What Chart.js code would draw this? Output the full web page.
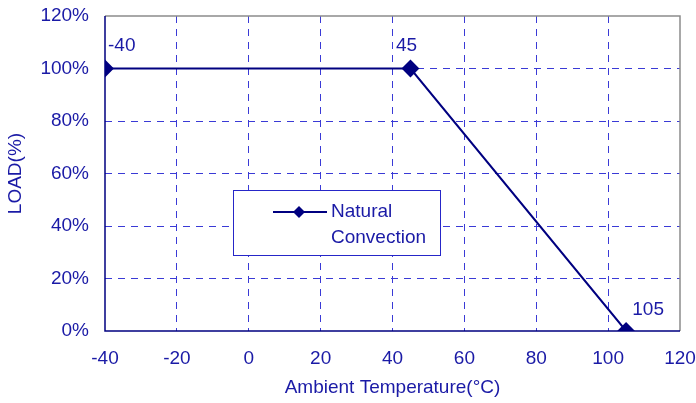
<!DOCTYPE html>
<html>
<head>
<meta charset="utf-8">
<script src="https://cdn.jsdelivr.net/npm/chart.js@4.4.1/dist/chart.umd.min.js"></script>
<style>
  html, body { margin:0; padding:0; background:#fff; }
  #wrap { width:696px; height:403px; }
</style>
</head>
<body>
<div id="wrap"><canvas id="chart" width="696" height="403"></canvas></div>
<script>
// ---------------- DATA ----------------
const temps = [-40, 45, 105];
const loads = [100, 100, 0];
const pointLabels = ["-40", "45", "105"];
const seriesName = ["Natural", "Convection"];
const xTicks = [-40, -20, 0, 20, 40, 60, 80, 100, 120];
const yTicks = [0, 20, 40, 60, 80, 100, 120];

const NAVY = "#000080";
const TEXT = "#1a1aa6";
const GRID = "#3a3ad6";
const FONT = "'Liberation Sans', Arial, sans-serif";
const FS = 19;

// frame: gray top/right, navy left/bottom
const framePlugin = {
    id: "frame",
    beforeDatasetsDraw(chart){
        const {ctx, chartArea:a} = chart;
        ctx.save();
        ctx.lineWidth = 1.5;
        ctx.strokeStyle = "#8c8c8c";
        ctx.beginPath();
        ctx.moveTo(a.left, a.top); ctx.lineTo(a.right, a.top); ctx.lineTo(a.right, a.bottom);
        ctx.stroke();
        ctx.strokeStyle = NAVY;
        ctx.beginPath();
        ctx.moveTo(a.left, a.top); ctx.lineTo(a.left, a.bottom); ctx.lineTo(a.right, a.bottom);
        ctx.stroke();
        ctx.restore();
    }
};

// value labels + legend box
const labelPlugin = {
    id: "labels",
    afterDatasetsDraw(chart){
        const {ctx} = chart;
        const meta = chart.getDatasetMeta(0);
        ctx.save();
        ctx.font = FS + "px " + FONT;
        ctx.fillStyle = TEXT;
        ctx.textBaseline = "middle";
        const offs = [[3, -23, "left"], [-4, -23, "center"], [22, -21, "center"]];
        meta.data.forEach((p, i) => {
            ctx.textAlign = offs[i][2];
            ctx.fillText(pointLabels[i], p.x + offs[i][0], p.y + offs[i][1]);
        });

        // legend
        const bx = 233.5, by = 190.5, bw = 207, bh = 65;
        ctx.fillStyle = "#fff";
        ctx.fillRect(bx, by, bw, bh);
        ctx.strokeStyle = "#2626c8";
        ctx.lineWidth = 1;
        ctx.strokeRect(bx, by, bw, bh);
        const ly = 212;
        ctx.strokeStyle = NAVY;
        ctx.lineWidth = 2;
        ctx.beginPath(); ctx.moveTo(273, ly); ctx.lineTo(327, ly); ctx.stroke();
        ctx.fillStyle = NAVY;
        ctx.beginPath();
        ctx.moveTo(299, ly - 6); ctx.lineTo(305, ly); ctx.lineTo(299, ly + 6); ctx.lineTo(293, ly);
        ctx.closePath(); ctx.fill();
        ctx.fillStyle = TEXT;
        ctx.textAlign = "left";
        ctx.fillText(seriesName[0], 331, ly);
        ctx.fillText(seriesName[1], 331, ly + 26);
        ctx.restore();
    }
};

new Chart(document.getElementById("chart"), {
    type: "line",
    data: {
        datasets: [{
            label: seriesName.join(" "),
            data: temps.map((t, i) => ({x: t, y: loads[i]})),
            borderColor: NAVY,
            backgroundColor: NAVY,
            borderWidth: 2,
            pointStyle: "rectRot",
            pointRadius: 7.5,
            pointHoverRadius: 7.5,
            tension: 0
        }]
    },
    options: {
        responsive: false,
        animation: false,
        layout: { padding: { left: 0, right: 16, top: 16, bottom: 0 } },
        plugins: { legend: { display: false }, tooltip: { enabled: false } },
        scales: {
            x: {
                type: "linear",
                min: -40, max: 120,
                afterBuildTicks: s => { s.ticks = xTicks.map(v => ({value: v})); },
                afterFit: s => { s.height = 72; s.paddingLeft = 0; s.paddingRight = 0; },
                border: { display: false, dash: [7, 6] },
                grid: {
                    color: c => c.tick && (c.tick.value === -40 || c.tick.value === 120) ? "rgba(0,0,0,0)" : GRID,
                    lineWidth: 1,
                    drawTicks: false
                },
                ticks: { color: TEXT, font: { family: FONT, size: FS }, padding: 16, maxRotation: 0 },
                title: { display: true, text: "Ambient Temperature(°C)", color: TEXT,
                         font: { family: FONT, size: FS }, padding: { top: 0 } }
            },
            y: {
                min: 0, max: 120,
                afterBuildTicks: s => { s.ticks = yTicks.map(v => ({value: v})); },
                afterFit: s => { s.width = 105; s.paddingTop = 0; s.paddingBottom = 0; },
                border: { display: false, dash: [7, 6] },
                grid: {
                    color: c => c.tick && (c.tick.value === 0 || c.tick.value === 120) ? "rgba(0,0,0,0)" : GRID,
                    lineWidth: 1,
                    drawTicks: false
                },
                ticks: { color: TEXT, font: { family: FONT, size: FS }, padding: 16,
                         callback: v => v + "%" },
                title: { display: true, text: "LOAD(%)", color: TEXT,
                         font: { family: FONT, size: FS }, padding: { bottom: 2 } }
            }
        }
    },
    plugins: [framePlugin, labelPlugin]
});
</script>
</body>
</html>
